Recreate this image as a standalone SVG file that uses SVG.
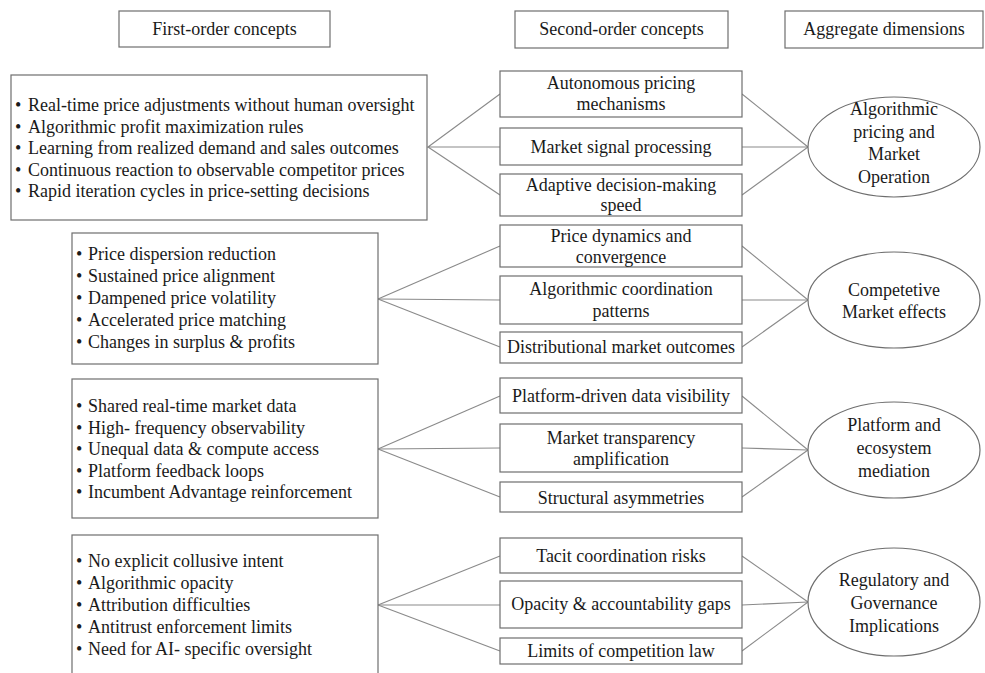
<svg xmlns="http://www.w3.org/2000/svg" width="985" height="673" viewBox="0 0 985 673">
<style>
  .box { fill: #ffffff; stroke: #6e6e6e; stroke-width: 1.2; }
  .ell { fill: #ffffff; stroke: #6e6e6e; stroke-width: 1.2; }
  .conn { stroke: #8a8a8a; stroke-width: 1.1; fill: none; }
  text { font-family: "Liberation Serif", "Times New Roman", serif; font-size: 18px; fill: #1a1a1a; }
  .c { text-anchor: middle; }
</style>
<rect width="985" height="673" fill="#ffffff"/>

<g id="header-first"><rect class="box" x="119" y="11" width="211" height="36"/><text class="c" x="224.5" y="35">First-order concepts</text></g>
<g id="header-second"><rect class="box" x="515" y="11" width="213" height="37"/><text class="c" x="621.5" y="35">Second-order concepts</text></g>
<g id="header-aggregate"><rect class="box" x="785" y="11" width="198" height="37"/><text class="c" x="884" y="35">Aggregate dimensions</text></g>

<g id="connectors">
  <polyline class="conn" points="500,94 428,147 500,147"/>
  <line class="conn" x1="428" y1="147" x2="500" y2="195"/>
  <line class="conn" x1="742" y1="94" x2="808" y2="147"/>
  <line class="conn" x1="742" y1="147" x2="808" y2="147"/>
  <line class="conn" x1="742" y1="195" x2="808" y2="147"/>

  <line class="conn" x1="378" y1="299" x2="500" y2="246"/>
  <line class="conn" x1="378" y1="299" x2="500" y2="300"/>
  <line class="conn" x1="378" y1="299" x2="500" y2="347"/>
  <line class="conn" x1="742" y1="246" x2="808" y2="300"/>
  <line class="conn" x1="742" y1="300" x2="808" y2="300"/>
  <line class="conn" x1="742" y1="347" x2="808" y2="300"/>

  <line class="conn" x1="378" y1="449" x2="500" y2="396"/>
  <line class="conn" x1="378" y1="449" x2="500" y2="448"/>
  <line class="conn" x1="378" y1="449" x2="500" y2="497"/>
  <line class="conn" x1="742" y1="396" x2="808" y2="450"/>
  <line class="conn" x1="742" y1="448" x2="808" y2="450"/>
  <line class="conn" x1="742" y1="497" x2="808" y2="450"/>

  <line class="conn" x1="378" y1="605" x2="500" y2="556"/>
  <line class="conn" x1="378" y1="605" x2="500" y2="605"/>
  <line class="conn" x1="378" y1="605" x2="500" y2="651"/>
  <line class="conn" x1="742" y1="556" x2="808" y2="602"/>
  <line class="conn" x1="742" y1="605" x2="808" y2="602"/>
  <line class="conn" x1="742" y1="651" x2="808" y2="602"/>
</g>

<g id="first-1">
  <rect class="box" x="11" y="75" width="416" height="145"/>
  <text x="15" y="111">• <tspan x="28">Real-time price adjustments without human oversight</tspan></text>
  <text x="15" y="132.5">• <tspan x="28">Algorithmic profit maximization rules</tspan></text>
  <text x="15" y="154">• <tspan x="28">Learning from realized demand and sales outcomes</tspan></text>
  <text x="15" y="175.5">• <tspan x="28">Continuous reaction to observable competitor prices</tspan></text>
  <text x="15" y="197">• <tspan x="28">Rapid iteration cycles in price-setting decisions</tspan></text>
</g>
<g id="first-2">
  <rect class="box" x="72" y="233" width="306" height="131"/>
  <text x="76" y="260">• <tspan x="88">Price dispersion reduction</tspan></text>
  <text x="76" y="282">• <tspan x="88">Sustained price alignment</tspan></text>
  <text x="76" y="304">• <tspan x="88">Dampened price volatility</tspan></text>
  <text x="76" y="326">• <tspan x="88">Accelerated price matching</tspan></text>
  <text x="76" y="348">• <tspan x="88">Changes in surplus &amp; profits</tspan></text>
</g>
<g id="first-3">
  <rect class="box" x="72" y="379" width="306" height="139"/>
  <text x="76" y="412">• <tspan x="88">Shared real-time market data</tspan></text>
  <text x="76" y="433.5">• <tspan x="88">High- frequency observability</tspan></text>
  <text x="76" y="455">• <tspan x="88">Unequal data &amp; compute access</tspan></text>
  <text x="76" y="476.5">• <tspan x="88">Platform feedback loops</tspan></text>
  <text x="76" y="498">• <tspan x="88">Incumbent Advantage reinforcement</tspan></text>
</g>
<g id="first-4">
  <rect class="box" x="72" y="535" width="306" height="145"/>
  <text x="76" y="567">• <tspan x="88">No explicit collusive intent</tspan></text>
  <text x="76" y="589">• <tspan x="88">Algorithmic opacity</tspan></text>
  <text x="76" y="611">• <tspan x="88">Attribution difficulties</tspan></text>
  <text x="76" y="633">• <tspan x="88">Antitrust enforcement limits</tspan></text>
  <text x="76" y="655">• <tspan x="88">Need for AI- specific oversight</tspan></text>
</g>

<g id="second-autonomous"><rect class="box" x="500" y="71" width="242" height="46"/><text class="c" x="621" y="89">Autonomous pricing</text><text class="c" x="621" y="110">mechanisms</text></g>
<g id="second-signal"><rect class="box" x="500" y="128" width="242" height="37"/><text class="c" x="621" y="153">Market signal processing</text></g>
<g id="second-adaptive"><rect class="box" x="500" y="174" width="242" height="42"/><text class="c" x="621" y="191">Adaptive decision-making</text><text class="c" x="621" y="211">speed</text></g>

<g id="second-dynamics"><rect class="box" x="500" y="225" width="242" height="42"/><text class="c" x="621" y="242">Price dynamics and</text><text class="c" x="621" y="263">convergence</text></g>
<g id="second-coordination"><rect class="box" x="500" y="276" width="242" height="48"/><text class="c" x="621" y="295">Algorithmic coordination</text><text class="c" x="621" y="317">patterns</text></g>
<g id="second-distributional"><rect class="box" x="500" y="332" width="242" height="31"/><text class="c" x="621" y="353">Distributional market outcomes</text></g>

<g id="second-visibility"><rect class="box" x="500" y="378" width="242" height="35"/><text class="c" x="621" y="402">Platform-driven data visibility</text></g>
<g id="second-transparency"><rect class="box" x="500" y="424" width="242" height="48"/><text class="c" x="621" y="444">Market transparency</text><text class="c" x="621" y="465">amplification</text></g>
<g id="second-asymmetries"><rect class="box" x="500" y="482" width="242" height="30"/><text class="c" x="621" y="504">Structural asymmetries</text></g>

<g id="second-tacit"><rect class="box" x="500" y="538" width="242" height="35"/><text class="c" x="621" y="562">Tacit coordination risks</text></g>
<g id="second-opacity"><rect class="box" x="500" y="581" width="242" height="47"/><text class="c" x="621" y="610">Opacity &amp; accountability gaps</text></g>
<g id="second-limits"><rect class="box" x="500" y="638" width="242" height="26"/><text class="c" x="621" y="657">Limits of competition law</text></g>

<g id="agg-1"><ellipse class="ell" cx="894" cy="147" rx="86" ry="50"/>
  <text class="c" x="894" y="115">Algorithmic</text><text class="c" x="894" y="138">pricing and</text><text class="c" x="894" y="160">Market</text><text class="c" x="894" y="183">Operation</text></g>
<g id="agg-2"><ellipse class="ell" cx="894" cy="300" rx="86" ry="48"/>
  <text class="c" x="894" y="296">Competetive</text><text class="c" x="894" y="318">Market effects</text></g>
<g id="agg-3"><ellipse class="ell" cx="894" cy="450" rx="86" ry="48"/>
  <text class="c" x="894" y="431">Platform and</text><text class="c" x="894" y="454">ecosystem</text><text class="c" x="894" y="477">mediation</text></g>
<g id="agg-4"><ellipse class="ell" cx="894" cy="602" rx="86" ry="54"/>
  <text class="c" x="894" y="586">Regulatory and</text><text class="c" x="894" y="609">Governance</text><text class="c" x="894" y="632">Implications</text></g>
</svg>
